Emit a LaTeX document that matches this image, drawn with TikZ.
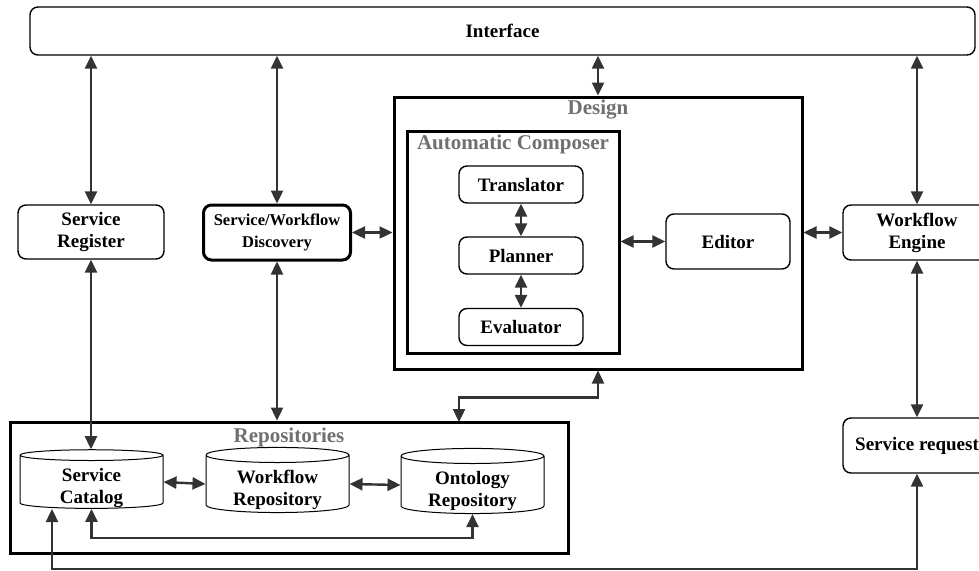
\documentclass[tikz,border=0pt]{standalone}
\usepackage{fontspec}
\setmainfont{Liberation Serif}
\usepackage{xcolor}
\usetikzlibrary{arrows.meta,shapes.geometric}
\definecolor{arrowgray}{HTML}{333333}
\definecolor{labelgray}{HTML}{707070}
\tikzset{box/.style={draw, rounded corners=8pt, line width=1.4pt, align=center, inner sep=0pt,
  font=\fontsize{19}{22}\selectfont\bfseries},
frame/.style={draw, line width=3pt, inner sep=0pt},
%cylinders for the repositories
store/.style={cylinder, shape border rotate=90, aspect=0.17, draw, line width=1pt, align=center,
  inner sep=0pt, minimum width=143pt, minimum height=55pt, text height=42pt, text depth=0pt,
  font=\fontsize{19}{22}\selectfont\bfseries},
grouplabel/.style={text=labelgray, font=\fontsize{21}{24}\selectfont\bfseries},
link/.style={{Triangle[length=13pt,width=12pt]}-{Triangle[length=13pt,width=12pt]}, draw=arrowgray, line width=2.4pt}}

\begin{document}
\begin{tikzpicture}[x=1pt, y=-1pt]
\useasboundingbox (0,0) rectangle (979,570);
\clip (0,0) rectangle (979,570);
%\draw[step=50,color=gray] (0,0) grid (979,570);
\node[box, minimum width=945pt, minimum height=48pt] (iface) at (502.5,31) {Interface};
\node[box, minimum width=146pt, minimum height=54pt] (reg) at (91,232) {Service\\Register};
\node[box, line width=3pt, minimum width=147pt, minimum height=55pt,
  font=\fontsize{16.5}{22}\selectfont\bfseries] (disc) at (277,232.5) {Service/Workflow\\Discovery};
\node[frame, minimum width=408pt, minimum height=272pt] (design) at (598,233) {};
\node[grouplabel] (designlbl) at (598,110) {Design};
\node[frame, minimum width=212pt, minimum height=222pt] (comp) at (513,242) {};
\node[grouplabel] (complbl) at (513,144) {Automatic Composer};
\node[box, minimum width=124pt, minimum height=37pt] (trans) at (521,184.5) {Translator};
\node[box, minimum width=124pt, minimum height=37pt] (planner) at (521,255.5) {Planner};
\node[box, minimum width=124pt, minimum height=37pt] (eval) at (521,327) {Evaluator};
\node[box, minimum width=124pt, minimum height=55pt] (editor) at (728,241.5) {Editor};
\node[box, minimum width=148pt, minimum height=55pt] (engine) at (917,232.5) {Workflow\\Engine};
\node[box, minimum width=148pt, minimum height=55pt] (req) at (917,445.5) {Service request};
\node[frame, minimum width=558pt, minimum height=131pt] (repos) at (289,487.5) {};
\node[grouplabel] (reposlbl) at (289,437) {Repositories};
\node[store] (cat) at (91.5,482) {Service\\Catalog};
\node[store] (wfrepo) at (277.5,484) {Workflow\\Repository};
\node[store] (onto) at (472.5,485) {Ontology\\Repository};
\coordinate (rtop) at (459,422);
\coordinate (corner) at (52,569);
\coordinate (catfoot) at (52,509);
% interface links
\draw[link] (reg.north |- iface.south) -- (reg.north);
\draw[link] (disc.north |- iface.south) -- (disc.north);
\draw[link] (design.north |- iface.south) -- (design.north);
\draw[link] (engine.north |- iface.south) -- (engine.north);
% middle row
\draw[link] (disc.east) -- (disc.east -| design.west);
\draw[link] (comp.east |- editor.west) -- (editor.west);
\draw[link] (design.east |- engine.west) -- (engine.west);
\draw[link] (trans.south) -- (planner.north);
\draw[link] (planner.south) -- (eval.north);
% down to the repositories
\draw[link] (reg.south) -- (reg.south |- cat.north);
\draw[link] (disc.south) -- (disc.south |- repos.north);
\draw[link] (design.south) -- ++(0,27) -| (rtop);
\draw[link] (engine.south) -- (req.north);
\draw[link] (cat.south) -- ++(0,29) -| (onto.south);
\draw[link] (cat.east) -- (wfrepo.west);
\draw[link] (wfrepo.east) -- (onto.west);
\draw[link] (req.south) |- (corner) -- (catfoot);
\end{tikzpicture}
\end{document}
